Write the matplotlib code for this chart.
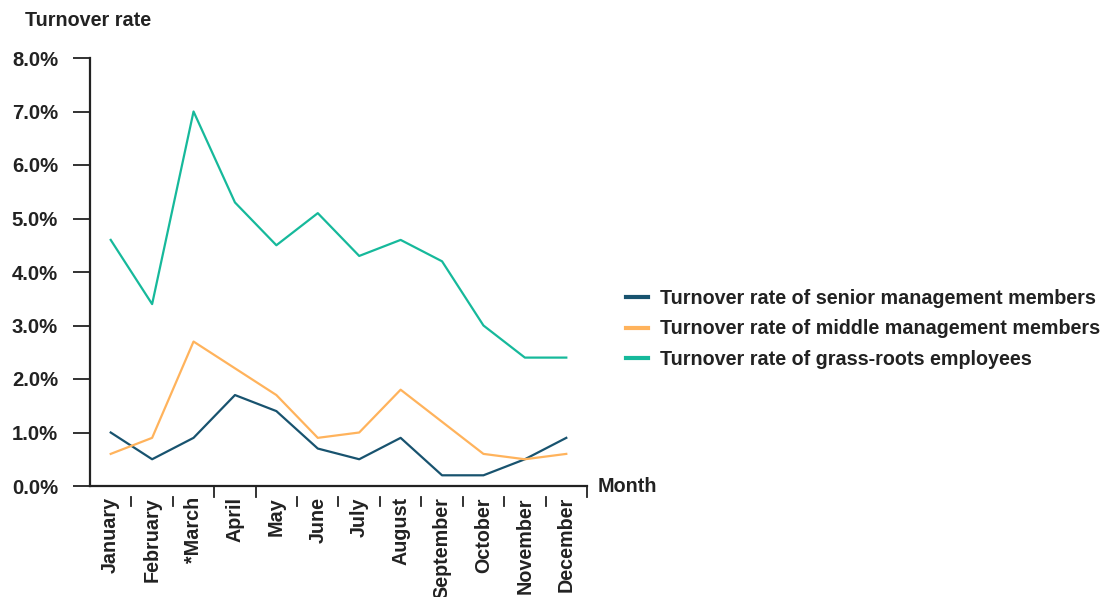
import matplotlib
matplotlib.use("Agg")
import matplotlib.pyplot as plt
from matplotlib.lines import Line2D
import matplotlib.transforms as mtransforms

plt.rcParams['font.family'] = ['Liberation Sans', 'DejaVu Sans']

months = ["January", "February", "*March", "April", "May", "June", "July",
          "August", "September", "October", "November", "December"]
senior = [1.0, 0.5, 0.9, 1.7, 1.4, 0.7, 0.5, 0.9, 0.2, 0.2, 0.5, 0.9]
middle = [0.6, 0.9, 2.7, 2.2, 1.7, 0.9, 1.0, 1.8, 1.2, 0.6, 0.5, 0.6]
grass = [4.6, 3.4, 7.0, 5.3, 4.5, 5.1, 4.3, 4.6, 4.2, 3.0, 2.4, 2.4]
yticks = [0, 1, 2, 3, 4, 5, 6, 7, 8]
series_names = ["Turnover rate of senior management members",
                "Turnover rate of middle management members",
                "Turnover rate of grass-roots employees"]
colors = ["#18536f", "#ffb35c", "#16b99b"]

FS = 14.2
W, H = 1112, 597
fig = plt.figure(figsize=(W / 100, H / 100), dpi=100)
ax = fig.add_axes([90 / W, 1 - 486 / H, (587 - 90) / W, (486 - 58) / H])

x = list(range(len(months)))
lines = []
for vals, c in zip([senior, middle, grass], colors):
    l, = ax.plot(x, vals, color=c, lw=1.6)
    lines.append(l)

ax.set_xlim(-0.5, len(months) - 0.5)
ax.set_ylim(0, 8)
ax.set_yticks(yticks)
ax.set_yticklabels([f"{v:.1f}%" for v in yticks], fontsize=14.6, fontweight='bold', color='#222222')
ax.tick_params(axis='y', length=12, width=1.3, color='#222222', pad=11)

ax.set_xticks(x)
ax.set_xticklabels(months, rotation=90, fontsize=FS, fontweight='bold', color='#222222')
ax.tick_params(axis='x', length=0, pad=8)

for s in ['top', 'right']:
    ax.spines[s].set_visible(False)
for s in ['left', 'bottom']:
    ax.spines[s].set_linewidth(1.6)
    ax.spines[s].set_color('#222222')

# boundary tick marks
trans = mtransforms.blended_transform_factory(ax.transData, ax.transAxes)
ph = 1.0 / (486 - 58)
attached = {3, 4, 12}
for b in range(1, len(months) + 1):
    xb = b - 0.5
    if b in attached:
        ax.add_line(Line2D([xb, xb], [0, -11 * ph], transform=trans, color='#222222',
                           lw=1.3, clip_on=False))
    else:
        ax.add_line(Line2D([xb, xb], [-11 * ph, -20 * ph], transform=trans, color='#222222',
                           lw=1.3, clip_on=False))

fig.text(25 / W, 1 - 20 / H, "Turnover rate", fontsize=FS, fontweight='bold',
         color='#222222', ha='left', va='center')
fig.text(598 / W, 1 - 486 / H, "Month", fontsize=FS, fontweight='bold',
         color='#222222', ha='left', va='center')

fig.legend(lines, series_names, loc='center left', bbox_to_anchor=(608 / W, 1 - 329 / H),
           frameon=False, handlelength=1.15,
           prop={'weight': 'bold', 'size': FS}, labelspacing=0.6, handletextpad=0.6,
           labelcolor='#222222')
for lh in fig.legends[0].get_lines():
    lh.set_linewidth(3)

fig.savefig("out.png", dpi=100)
